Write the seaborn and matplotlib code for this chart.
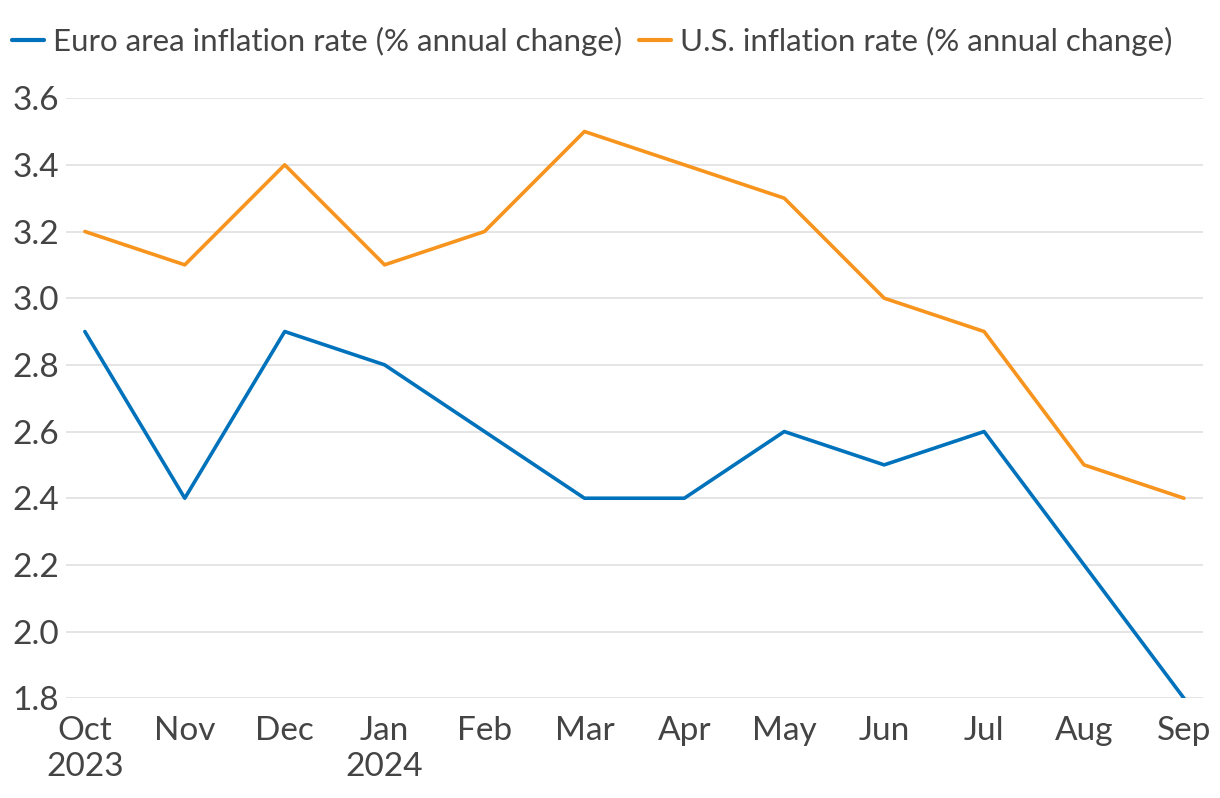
import matplotlib
matplotlib.use("Agg")
import matplotlib.pyplot as plt
import seaborn as sns
import pandas as pd

months = ["Oct\n2023", "Nov", "Dec", "Jan\n2024", "Feb", "Mar", "Apr",
          "May", "Jun", "Jul", "Aug", "Sep"]
euro = [2.9, 2.4, 2.9, 2.8, 2.6, 2.4, 2.4, 2.6, 2.5, 2.6, 2.2, 1.8]
us = [3.2, 3.1, 3.4, 3.1, 3.2, 3.5, 3.4, 3.3, 3.0, 2.9, 2.5, 2.4]
series_names = ["Euro area inflation rate (% annual change)",
                "U.S. inflation rate (% annual change)"]
colors = ["#0072BB", "#F7941E"]

df = pd.DataFrame({
    "month": list(range(len(months))) * 2,
    "value": euro + us,
    "series": [series_names[0]] * len(euro) + [series_names[1]] * len(us),
})

sns.set_style("white")
plt.rcParams["font.family"] = ["Lato", "DejaVu Sans"]

fig = plt.figure(figsize=(12.2, 7.98), dpi=100)
ax = fig.add_axes([0.054, 0.125, 0.932, 0.752])

sns.lineplot(data=df, x="month", y="value", hue="series",
             palette=colors, linewidth=2.6, ax=ax, legend=True)

ax.set_xlim(-0.19, 11.19)
ax.set_ylim(1.8, 3.6)
ax.set_yticks([1.8, 2.0, 2.2, 2.4, 2.6, 2.8, 3.0, 3.2, 3.4, 3.6])
ax.set_yticklabels([f"{v:.1f}" for v in ax.get_yticks()])
ax.set_xticks(range(len(months)))
ax.set_xticklabels(months)
ax.set_xlabel("")
ax.set_ylabel("")
ax.grid(axis="y", color="#e3e3e3", linewidth=1.3)
ax.set_axisbelow(True)
for s in ax.spines.values():
    s.set_visible(False)
ax.tick_params(axis="both", length=0, labelsize=24, colors="#444444")
ax.tick_params(axis="y", pad=5)
ax.tick_params(axis="x", pad=13)
for lbl in ax.get_xticklabels():
    lbl.set_linespacing(1.25)

leg = ax.legend(loc="lower left", bbox_to_anchor=(-0.058, 1.05), ncol=2,
                frameon=False, fontsize=22.5, handlelength=1.0,
                handletextpad=0.3, columnspacing=0.55, borderaxespad=0,
                labelcolor="#444444")
for h in leg.get_lines():
    h.set_linewidth(3)

fig.savefig("out.png", dpi=100)
